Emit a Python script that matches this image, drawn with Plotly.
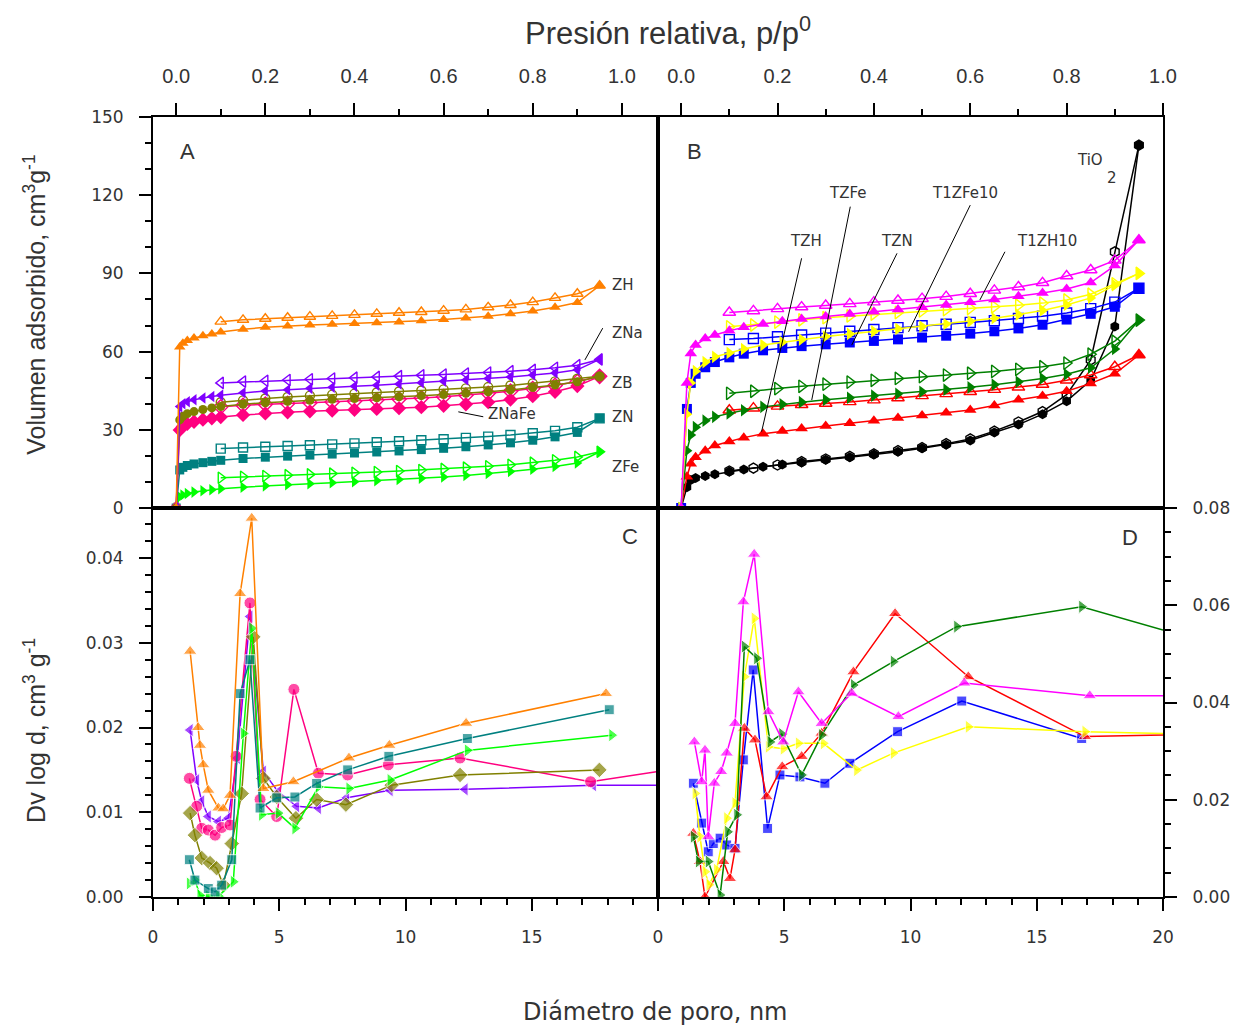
import plotly.graph_objects as go

# ---------------- Panel A: zeolite isotherms ----------------
P_ADS_A = [0, 0.008, 0.015, 0.025, 0.04, 0.06, 0.08, 0.1, 0.15, 0.2, 0.25, 0.3, 0.35,
           0.4, 0.45, 0.5, 0.55, 0.6, 0.65, 0.7, 0.75, 0.8, 0.85, 0.9, 0.95]
P_DES_A = [0.95, 0.9, 0.85, 0.8, 0.75, 0.7, 0.65, 0.6, 0.55, 0.5, 0.45, 0.4, 0.35,
           0.3, 0.25, 0.2, 0.15, 0.1]

ZH_ADS = [0, 61.8, 63.2, 64.3, 65.2, 66.1, 66.8, 67.5, 68.6, 69.3, 69.8, 70.2, 70.5,
          70.8, 71.1, 71.4, 71.8, 72.3, 72.9, 73.6, 74.5, 75.6, 77.0, 78.8, 85.3]
ZH_DES = [85.3, 82.2, 80.6, 79.0, 77.9, 77.0, 76.2, 75.7, 75.2, 74.9, 74.5, 74.1, 73.7,
          73.4, 73.0, 72.6, 72.2, 71.5]
ZNA_ADS = [0, 38.9, 40.0, 40.8, 41.5, 42.2, 42.8, 43.3, 44.2, 44.9, 45.4, 45.9, 46.3,
           46.7, 47.1, 47.6, 48.1, 48.6, 49.1, 49.7, 50.3, 51.0, 51.8, 53.0, 57.0]
ZNA_DES = [57.0, 54.8, 53.8, 53.0, 52.5, 52.0, 51.6, 51.2, 50.9, 50.6, 50.3, 50.0, 49.7,
           49.4, 49.1, 48.8, 48.5, 48.0]
ZB_ADS = [0, 33.8, 35.2, 36.2, 37.0, 37.8, 38.4, 38.9, 39.8, 40.4, 40.9, 41.3, 41.7,
          42.0, 42.3, 42.7, 43.1, 43.5, 44.0, 44.6, 45.3, 46.2, 47.2, 48.4, 50.5]
ZB_DES = [50.5, 49.6, 48.6, 47.8, 47.0, 46.4, 45.9, 45.5, 45.1, 44.7, 44.3, 43.9, 43.5,
          43.1, 42.6, 42.0, 41.3, 40.6]
ZNAFE_ADS = [0, 29.9, 31.3, 32.3, 33.1, 33.9, 34.4, 34.9, 35.7, 36.3, 36.7, 37.1, 37.4,
             37.7, 38.0, 38.3, 38.7, 39.2, 39.8, 40.6, 41.6, 42.9, 44.6, 46.8, 50.5]
ZNAFE_DES = [50.5, 48.5, 47.0, 45.8, 44.8, 44.0, 43.3, 42.7, 42.2, 41.8, 41.4, 41.0, 40.7,
             40.4, 40.1, 39.8, 39.4, 38.8]
ZN_ADS = [0, 14.6, 15.6, 16.3, 16.9, 17.4, 17.9, 18.3, 19.0, 19.5, 19.9, 20.3, 20.7,
          21.1, 21.5, 21.9, 22.4, 22.9, 23.5, 24.2, 25.0, 26.0, 27.3, 29.0, 34.4]
ZN_DES = [34.4, 31.0, 29.6, 28.7, 28.0, 27.4, 26.9, 26.4, 26.0, 25.6, 25.2, 24.8, 24.4,
          24.1, 23.8, 23.5, 23.2, 22.8]
ZFE_ADS = [0, 4.3, 5.0, 5.6, 6.1, 6.6, 7.0, 7.4, 8.0, 8.5, 8.9, 9.3, 9.7,
           10.1, 10.5, 10.9, 11.4, 11.9, 12.5, 13.2, 14.0, 14.9, 15.9, 17.3, 21.6]
ZFE_DES = [21.6, 19.6, 18.3, 17.4, 16.6, 16.0, 15.5, 15.0, 14.6, 14.2, 13.8, 13.5, 13.2,
           12.9, 12.6, 12.3, 12.0, 11.6]

# ---------------- Panel B: TiO2-based isotherms ----------------
P_ADS_B = [0, 0.012, 0.02, 0.03, 0.05, 0.07, 0.1, 0.13, 0.17, 0.21, 0.25, 0.3, 0.35,
           0.4, 0.45, 0.5, 0.55, 0.6, 0.65, 0.7, 0.75, 0.8, 0.85, 0.9, 0.95]
P_DES_B = [0.95, 0.9, 0.85, 0.8, 0.75, 0.7, 0.65, 0.6, 0.55, 0.5, 0.45, 0.4, 0.35,
           0.3, 0.25, 0.2, 0.15, 0.1]

TZH_ADS = [0, 12, 17, 19.5, 22, 24, 25.5, 27, 28.5, 29.5, 30.5, 31.5, 32.5,
           33.5, 34.5, 35.5, 36.5, 37.6, 39.3, 41.5, 43.0, 44.8, 47.8, 51.5, 58.7]
TZH_DES = [58.7, 54.2, 51.0, 49.0, 47.4, 46.3, 45.4, 44.6, 43.8, 43.0, 42.2, 41.4, 40.7,
           40.1, 39.6, 39.0, 38.3, 37.5]
TZFE_ADS = [0, 22, 28, 31, 33.5, 35, 36.3, 37.5, 38.8, 39.8, 40.6, 41.5, 42.3,
            43.1, 43.8, 44.6, 45.4, 46.3, 47.3, 48.4, 49.7, 51.3, 53.8, 61.0, 72.1]
TZFE_DES = [72.1, 64.0, 59.0, 55.6, 54.2, 53.2, 52.4, 51.7, 51.0, 50.4, 49.7, 49.0, 48.3,
            47.5, 46.7, 45.8, 44.8, 44.0]
TZN_ADS = [0, 38, 48, 51.5, 54, 56, 57.8, 59.2, 60.5, 61.4, 62.1, 62.8, 63.5,
           64.1, 64.7, 65.4, 66.1, 66.9, 67.8, 68.9, 70.3, 72.3, 74.5, 77.2, 84.3]
TZN_DES = [84.3, 79.0, 76.5, 74.8, 73.6, 72.7, 71.9, 71.2, 70.5, 69.9, 69.2, 68.5, 67.8,
           67.1, 66.4, 65.7, 65.0, 64.6]
T1ZFE10_ADS = [0, 36, 48, 52.5, 56, 58, 59.5, 61, 62.5, 63.6, 64.6, 65.8, 66.8,
               67.8, 68.7, 69.6, 70.6, 71.6, 72.8, 74.2, 75.8, 77.9, 80.6, 85.5, 90.0]
T1ZFE10_DES = [90.0, 86.0, 82.0, 79.8, 78.6, 77.8, 77.2, 76.6, 76.1, 75.6, 75.0, 74.4, 73.7,
               73.0, 72.2, 71.3, 70.2, 69.5]
T1ZH10_ADS = [0, 48, 59.3, 62.5, 65, 66.4, 68, 69.3, 70.6, 71.6, 72.5, 73.5, 74.4,
              75.3, 76.2, 77.0, 77.9, 78.9, 80.0, 81.2, 82.5, 84.0, 86.5, 93.0, 102.8]
T1ZH10_DES = [102.8, 95.0, 91.3, 89.0, 86.4, 84.8, 83.5, 82.2, 81.1, 80.3, 79.6, 79.0, 78.3,
              77.7, 77.1, 76.4, 75.6, 75.0]
TIO2_ADS = [0, 8, 10.7, 11.5, 12.3, 13, 14, 14.8, 15.8, 16.7, 17.5, 18.5, 19.5,
            20.5, 21.6, 22.9, 24.3, 25.9, 29.0, 32.0, 36.0, 41.0, 49.0, 69.6, 139.2]
TIO2_DES = [139.2, 98.3, 56.8, 43.5, 37.0, 33.0, 29.5, 26.5, 24.7, 23.2, 22.0, 20.8, 19.8,
            18.8, 17.8, 16.5, 15.3, 14.2]

# ---------------- Panel C: pore size distributions (zeolites) ----------------
ZH_D = [1.47, 1.79, 1.86, 1.99, 2.19, 2.59, 2.78, 3.05, 3.45, 3.91, 4.37, 5.56, 7.76, 9.36, 12.40, 17.94]
ZH_DV = [0.0290, 0.0200, 0.0179, 0.0156, 0.0126, 0.0105, 0.0104, 0.0120, 0.0358, 0.0447, 0.0128,
         0.0136, 0.0164, 0.0179, 0.0205, 0.0240]
ZNAFE_D = [1.44, 1.73, 1.93, 2.19, 2.46, 2.72, 3.05, 3.29, 3.84, 4.24, 4.90, 5.58, 6.55, 7.71,
           9.32, 12.16, 17.33, 20.0]
ZNAFE_DV = [0.0140, 0.0107, 0.0081, 0.0079, 0.0073, 0.0082, 0.0085, 0.0166, 0.0347, 0.0115, 0.0095,
            0.0245, 0.0146, 0.0144, 0.0156, 0.0164, 0.0136, 0.0148]
ZNA_D = [1.47, 1.73, 1.93, 2.19, 2.59, 2.98, 3.34, 3.84, 4.37, 4.96, 5.69, 6.55, 7.67, 9.39,
         12.36, 17.44, 20.0]
ZNA_DV = [0.0197, 0.0138, 0.0113, 0.0095, 0.0089, 0.0093, 0.0164, 0.0331, 0.0148, 0.0124, 0.0107,
          0.0105, 0.0117, 0.0126, 0.0127, 0.0132, 0.0132]
ZB_D = [1.47, 1.66, 1.93, 2.26, 2.52, 2.79, 3.12, 3.51, 3.97, 4.37, 4.90, 5.66, 6.48, 7.64,
        9.45, 12.16, 17.68]
ZB_DV = [0.0099, 0.0073, 0.0046, 0.0040, 0.0034, 0.0014, 0.0063, 0.0122, 0.0307, 0.0140, 0.0118,
         0.0093, 0.0115, 0.0109, 0.0132, 0.0144, 0.0150]
ZN_D = [1.44, 1.66, 2.19, 2.46, 2.72, 3.12, 3.45, 3.84, 4.24, 4.90, 5.62, 6.48, 7.71, 9.34,
        12.45, 18.07]
ZN_DV = [0.0044, 0.0020, 0.0010, 0.0006, 0.0014, 0.0044, 0.0240, 0.0280, 0.0105, 0.0117, 0.0118,
         0.0134, 0.0150, 0.0166, 0.0187, 0.0221]
ZFE_D = [1.44, 1.66, 1.86, 2.19, 2.60, 3.18, 3.58, 3.91, 4.30, 4.96, 5.62, 6.55, 7.76, 9.39,
         12.45, 18.17]
ZFE_DV = [0.0016, 0.0020, 0.0002, 0.0001, 0.0001, 0.0018, 0.0193, 0.0317, 0.0097, 0.0099, 0.0081,
          0.0130, 0.0128, 0.0138, 0.0173, 0.0191]

# ---------------- Panel D: pore size distributions (TiO2 series) ----------------
T1ZH10_D = [1.44, 1.73, 1.86, 1.99, 2.23, 2.50, 2.72, 3.05, 3.38, 3.81, 4.37, 4.96, 5.56, 6.48,
            7.67, 9.52, 12.13, 17.10, 20.0]
T1ZH10_DV = [0.0319, 0.0237, 0.0302, 0.0124, 0.0234, 0.0258, 0.0296, 0.0357, 0.0607, 0.0705, 0.0381,
             0.0319, 0.0422, 0.0357, 0.0419, 0.0371, 0.0440, 0.0414, 0.0414]
TZH_D = [1.40, 1.66, 1.86, 2.59, 2.85, 3.05, 3.42, 3.84, 4.30, 4.92, 5.69, 6.48, 7.74, 9.39,
         12.29, 16.91, 20.0]
TZH_DV = [0.0131, 0.0073, 0.0000, 0.0073, 0.0038, 0.0097, 0.0347, 0.0323, 0.0206, 0.0268, 0.0289,
          0.0337, 0.0463, 0.0583, 0.0453, 0.0330, 0.0333]
TZFE_D = [1.40, 1.60, 1.99, 2.46, 2.76, 3.12, 3.42, 3.91, 4.44, 4.90, 5.69, 6.48, 7.74, 9.32,
          11.83, 16.78, 20.0]
TZFE_DV = [0.0124, 0.0073, 0.0073, 0.0004, 0.0134, 0.0169, 0.0515, 0.0491, 0.0319, 0.0335, 0.0251,
           0.0333, 0.0436, 0.0484, 0.0556, 0.0597, 0.0549]
TZN_D = [1.40, 1.73, 1.99, 2.19, 2.46, 2.72, 3.05, 3.38, 3.77, 4.34, 4.83, 5.62, 6.61, 7.60,
         9.49, 12.03, 16.78]
TZN_DV = [0.0234, 0.0152, 0.0093, 0.0110, 0.0121, 0.0107, 0.0100, 0.0282, 0.0467, 0.0141, 0.0251,
          0.0247, 0.0234, 0.0275, 0.0340, 0.0403, 0.0326]
T1ZFE10_D = [1.47, 1.66, 1.86, 2.02, 2.32, 2.72, 3.05, 3.42, 3.81, 4.37, 4.96, 5.56, 6.55, 7.87,
             9.32, 12.29, 16.91, 20.0]
T1ZFE10_DV = [0.0213, 0.0124, 0.0052, 0.0025, 0.0056, 0.0162, 0.0193, 0.0453, 0.0573, 0.0309, 0.0305,
              0.0316, 0.0316, 0.0261, 0.0296, 0.0350, 0.0340, 0.0336]

# colours
ORANGE, PURPLE, OLIVE, PINK, TEAL, LIME = "#FF8000", "#8000FF", "#808000", "#FF0080", "#008080", "#00FF00"
RED, GREEN, BLUE, YELLOW, MAGENTA, BLACK = "#FF0000", "#008000", "#0000FF", "#FFFF00", "#FF00FF", "#000000"

TEXT = "#333333"
NARROW = "Liberation Sans Narrow, Arial Narrow, Liberation Sans, Arial, sans-serif"
PLAIN = "DejaVu Sans, Liberation Sans, sans-serif"

fig = go.Figure()


def isotherm(p_ads, v_ads, p_des, v_des, color, symbol, xa, ya, size=10):
    fig.add_trace(go.Scatter(
        x=p_ads, y=v_ads, mode="lines+markers", xaxis=xa, yaxis=ya, showlegend=False,
        line=dict(color=color, width=1.5),
        marker=dict(symbol=symbol, size=size, color=color)))
    fig.add_trace(go.Scatter(
        x=p_des, y=v_des, mode="lines+markers", xaxis=xa, yaxis=ya, showlegend=False,
        line=dict(color=color, width=1.5),
        marker=dict(symbol=symbol + "-open", size=size, color=color,
                    line=dict(color=color, width=1.4))))


def psd(d, dv, color, symbol, xa, ya, tail=False, size=12):
    sizes = [size] * len(d)
    if tail:
        sizes[-1] = 0
    fig.add_trace(go.Scatter(
        x=d, y=dv, mode="lines+markers", xaxis=xa, yaxis=ya, showlegend=False,
        line=dict(color=color, width=1.5),
        marker=dict(symbol=symbol, size=sizes, color=color)))


# Panel A
isotherm(P_ADS_A, ZFE_ADS, P_DES_A, ZFE_DES, LIME, "triangle-right", "x", "y")
isotherm(P_ADS_A, ZN_ADS, P_DES_A, ZN_DES, TEAL, "square", "x", "y", 9)
isotherm(P_ADS_A, ZNAFE_ADS, P_DES_A, ZNAFE_DES, PINK, "diamond", "x", "y", 11)
isotherm(P_ADS_A, ZB_ADS, P_DES_A, ZB_DES, OLIVE, "circle", "x", "y", 9)
isotherm(P_ADS_A, ZNA_ADS, P_DES_A, ZNA_DES, PURPLE, "triangle-left", "x", "y")
isotherm(P_ADS_A, ZH_ADS, P_DES_A, ZH_DES, ORANGE, "triangle-up", "x", "y")

# Panel B
isotherm(P_ADS_B, TIO2_ADS, P_DES_B, TIO2_DES, BLACK, "hexagon", "x2", "y2")
isotherm(P_ADS_B, TZH_ADS, P_DES_B, TZH_DES, RED, "triangle-up", "x2", "y2", 11)
isotherm(P_ADS_B, TZFE_ADS, P_DES_B, TZFE_DES, GREEN, "triangle-right", "x2", "y2", 11)
isotherm(P_ADS_B, TZN_ADS, P_DES_B, TZN_DES, BLUE, "square", "x2", "y2", 10)
isotherm(P_ADS_B, T1ZFE10_ADS, P_DES_B, T1ZFE10_DES, YELLOW, "triangle-right", "x2", "y2", 11)
isotherm(P_ADS_B, T1ZH10_ADS, P_DES_B, T1ZH10_DES, MAGENTA, "triangle-up", "x2", "y2", 11)

# Panel C
psd(ZNA_D, ZNA_DV, PURPLE, "triangle-left", "x3", "y3", tail=True)
psd(ZNAFE_D, ZNAFE_DV, PINK, "circle", "x3", "y3", tail=True)
psd(ZB_D, ZB_DV, OLIVE, "diamond", "x3", "y3")
psd(ZFE_D, ZFE_DV, LIME, "triangle-right", "x3", "y3")
psd(ZN_D, ZN_DV, TEAL, "square", "x3", "y3", size=10)
psd(ZH_D, ZH_DV, ORANGE, "triangle-up", "x3", "y3")

# Panel D
psd(TZN_D, TZN_DV, BLUE, "square", "x4", "y4", size=10)
psd(TZH_D, TZH_DV, RED, "triangle-up", "x4", "y4", tail=True)
psd(T1ZFE10_D, T1ZFE10_DV, YELLOW, "triangle-right", "x4", "y4", tail=True)
psd(TZFE_D, TZFE_DV, GREEN, "triangle-right", "x4", "y4", tail=True)
psd(T1ZH10_D, T1ZH10_DV, MAGENTA, "triangle-up", "x4", "y4", tail=True)

TOP = [0.4987, 1.0]
BOT = [0.0, 0.4987]
tickfont_plain = dict(family=PLAIN, size=17, color=TEXT)
tickfont_narrow = dict(family=NARROW, size=20, color=TEXT)

axis_common = dict(showline=True, linecolor="black", linewidth=2, mirror=True,
                   showgrid=False, zeroline=False, tickcolor="black", tickwidth=2)


def minor(step):
    return dict(tickmode="linear", tick0=0, dtick=step, ticks="outside", ticklen=6,
                tickwidth=2, tickcolor="black")


PRESSURE_TICKS = [0, 0.2, 0.4, 0.6, 0.8, 1.0]
PRESSURE_TEXT = ["0.0", "0.2", "0.4", "0.6", "0.8", "1.0"]

fig.update_layout(
    width=1241, height=1026, autosize=False,
    margin=dict(l=153, r=78, t=117, b=129),
    paper_bgcolor="white", plot_bgcolor="white",
    xaxis=dict(domain=[0, 0.5], anchor="y", side="top", range=[-0.052, 1.081],
               tickvals=PRESSURE_TICKS, ticktext=PRESSURE_TEXT,
               ticks="outside", ticklen=12, tickfont=tickfont_narrow, ticklabelstandoff=12,
               minor=minor(0.1), **axis_common),
    yaxis=dict(domain=TOP, anchor="x", range=[0, 150], tickvals=[0, 30, 60, 90, 120, 150],
               ticks="outside", ticklen=12, tickfont=tickfont_plain, ticklabelstandoff=12,
               minor=minor(10), **axis_common),
    xaxis2=dict(domain=[0.5, 1.0], anchor="y2", side="top", range=[-0.048, 1.0],
                tickvals=PRESSURE_TICKS, ticktext=PRESSURE_TEXT,
                ticks="outside", ticklen=12, tickfont=tickfont_narrow, ticklabelstandoff=12,
                minor=minor(0.1), **axis_common),
    yaxis2=dict(domain=TOP, anchor="x2", range=[0, 150], showticklabels=False, ticks="",
                **axis_common),
    xaxis3=dict(domain=[0, 0.5], anchor="y3", range=[0, 20],
                tickvals=[0, 5, 10, 15, 20], ticktext=["0", "5", "10", "15", ""],
                ticks="outside", ticklen=12, tickfont=tickfont_plain, ticklabelstandoff=12,
                minor=minor(1), **axis_common),
    yaxis3=dict(domain=BOT, anchor="x3", range=[0, 0.0459],
                tickvals=[0, 0.01, 0.02, 0.03, 0.04], tickformat=".2f",
                ticks="outside", ticklen=12, tickfont=tickfont_plain, ticklabelstandoff=12,
                minor=minor(0.002), **axis_common),
    xaxis4=dict(domain=[0.5, 1.0], anchor="y4", range=[0, 20],
                tickvals=[0, 5, 10, 15, 20],
                ticks="outside", ticklen=12, tickfont=tickfont_plain, ticklabelstandoff=12,
                minor=minor(1), **axis_common),
    yaxis4=dict(domain=BOT, anchor="x4", side="right", range=[0, 0.08],
                tickvals=[0, 0.02, 0.04, 0.06, 0.08], tickformat=".2f",
                ticks="outside", ticklen=12, tickfont=tickfont_plain, ticklabelstandoff=12,
                minor=minor(0.005), **axis_common),
)

ann = []


def label(text, x, y, xref, yref, size=15, family=PLAIN, xanchor="center", yanchor="middle", **kw):
    ann.append(dict(text=text, x=x, y=y, xref=xref, yref=yref, showarrow=False,
                    xanchor=xanchor, yanchor=yanchor,
                    font=dict(family=family, size=size, color=TEXT), **kw))


LETTER = "Liberation Sans, Arial, sans-serif"
# panel letters
label("A", 0.004, 136.6, "x", "y", size=22, family=LETTER, xanchor="left")
label("B", 0.008, 136.6, "x2", "y2", size=22, family=LETTER, xanchor="left")
label("C", 18.9, 0.0425, "x3", "y3", size=22, family=LETTER)
label("D", 18.7, 0.074, "x4", "y4", size=22, family=LETTER)

# sample names, panel A
label("ZH", 0.973, 85.5, "x", "y", xanchor="left")
label("ZNa", 0.973, 67.1, "x", "y", xanchor="left")
label("ZB", 0.973, 47.9, "x", "y", xanchor="left")
label("ZNaFe", 0.695, 36.1, "x", "y", xanchor="left")
label("ZN", 0.973, 34.9, "x", "y", xanchor="left")
label("ZFe", 0.973, 15.7, "x", "y", xanchor="left")

# sample names, panel B
label("TZFe", 0.346, 120.8, "x2", "y2")
label("T1ZFe10", 0.589, 120.8, "x2", "y2")
label("TZH", 0.259, 102.4, "x2", "y2")
label("TZN", 0.448, 102.4, "x2", "y2")
label("T1ZH10", 0.759, 102.4, "x2", "y2")
label("TiO", 0.849, 133.5, "x2", "y2")
label("2", 0.894, 126.6, "x2", "y2")

# axis titles
label("Presión relativa, p/p<sup>0</sup>", 0.51, 1.11, "paper", "paper", size=31, family=NARROW)
label("Diámetro de poro, nm", 0.497, -0.147, "paper", "paper", size=24)
label("Volumen adsorbido, cm<sup>3</sup>g<sup>-1</sup>", -0.117, 0.759, "paper", "paper",
      size=25, family=NARROW, textangle=-90)
label("Dv log d, cm<sup>3</sup> g<sup>-1</sup>", -0.117, 0.214, "paper", "paper",
      size=25, family=NARROW, textangle=-90)

fig.update_layout(annotations=ann)

# leader lines joining names to curves
leaders = [
    ("x", "y", 0.957, 69.0, 0.917, 56.8),
    ("x", "y", 0.633, 36.9, 0.689, 35.0),
    ("x2", "y2", 0.250, 95.8, 0.167, 29.3),
    ("x2", "y2", 0.351, 115.6, 0.271, 41.4),
    ("x2", "y2", 0.448, 97.7, 0.354, 62.5),
    ("x2", "y2", 0.600, 116.2, 0.472, 67.6),
    ("x2", "y2", 0.672, 98.3, 0.620, 79.8),
]
for xr, yr, x0, y0, x1, y1 in leaders:
    fig.add_shape(type="line", xref=xr, yref=yr, x0=x0, y0=y0, x1=x1, y1=y1,
                  line=dict(color="black", width=1))

fig.write_html("out.html")
